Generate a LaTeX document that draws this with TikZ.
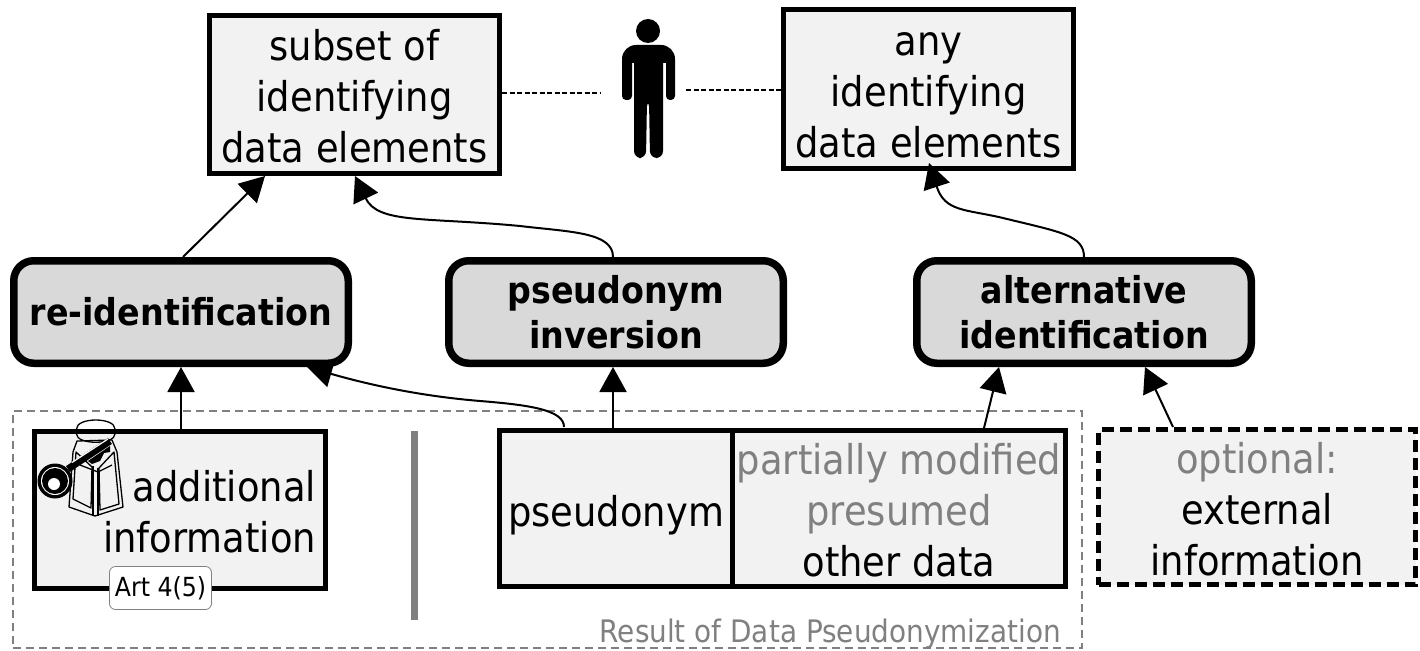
\documentclass[tikz,border=0pt]{standalone}
\usepackage{fontspec}
\setmainfont[FakeStretch=0.9]{DejaVu Sans}
\usetikzlibrary{arrows.meta}
\definecolor{boxfill}{HTML}{F2F2F2}
\definecolor{procfill}{HTML}{D9D9D9}
\definecolor{midgray}{HTML}{808080}
\newcommand{\topstrut}{\rule{0pt}{35pt}}
\newcommand{\boldstrut}{\rule{0pt}{28pt}}
\tikzset{
  x=1pt,y=-1pt,
  databox/.style={draw=black,line width=5pt,fill=boxfill,inner sep=0pt,align=center,font=\fontsize{41}{51}\selectfont},
  procbox/.style={draw=black,line width=7.5pt,fill=procfill,rounded corners=20pt,inner sep=0pt,align=center,font=\bfseries\fontsize{37}{45}\selectfont,minimum height=102.5pt,minimum width=334.5pt},
  conn/.style={draw=black,line width=2pt,-{Triangle[length=25pt,width=27pt]}},
  link/.style={draw=black,line width=1.7pt,dash pattern=on 5pt off 2.5pt},
  iconline/.style={draw=black,line width=1.3pt,line join=round},
}
\begin{document}
\begin{tikzpicture}
\useasboundingbox (0,0) rectangle (1420,650);
\fill[white] (0,0) rectangle (1420,650);
% outer frame
\node[draw=midgray,line width=1.5pt,dash pattern=on 8pt off 5pt,minimum width=1069pt,minimum height=237pt,inner sep=0pt] (frame) at (547.5,529.5) {};
\node[text=midgray,font=\fontsize{31}{36}\selectfont,anchor=base east,inner sep=0pt] (framelabel) at (1061,642) {Result of Data Pseudonymization};
% top boxes
\node[databox,minimum width=290pt,minimum height=158pt] (subset) at (354.5,94.5) {\topstrut subset of\\identifying\\data elements};
\node[databox,minimum width=290pt,minimum height=159pt] (any) at (928.5,89) {\topstrut any\\identifying\\data elements};
% process boxes
\node[procbox] (reid) at (181,312) {\boldstrut re-identification};
\node[procbox] (inv) at (616,312) {\boldstrut pseudonym\\inversion};
\node[procbox] (alt) at (1084,312) {\boldstrut alternative\\identification};
% lower boxes
\node[databox,minimum width=291pt,minimum height=157pt,text width=272pt,align=right] (add) at (180,510) {\rule{0pt}{35pt}additional\\information};
\node[databox,minimum width=233pt,minimum height=156pt] (pseud) at (616,508.5) {\raisebox{0pt}[35pt][0pt]{pseudonym}};
\node[databox,minimum width=333pt,minimum height=156pt] (other) at (899,508.5) {\topstrut\textcolor{midgray}{partially modified}\\\textcolor{midgray}{presumed}\\other data};
\node[databox,minimum width=317pt,minimum height=155pt,dash pattern=on 12pt off 6pt] (ext) at (1257,507) {\topstrut\textcolor{midgray}{optional:}\\external\\information};
\node[fill=midgray,minimum width=7pt,minimum height=189pt,inner sep=0pt] (bar) at (414.5,525.5) {};
\node[draw=midgray,line width=0.8pt,fill=white,rounded corners=6pt,minimum width=102pt,minimum height=43pt,inner sep=0pt,font=\fontsize{26.3}{30}\selectfont] (art) at (160.5,588) {Art 4(5)};
% lantern
\draw[iconline,fill=boxfill] (73,452) -- (77,441) -- (112,440) -- (117,452) -- (123,507) -- (95,516) -- (69,507) -- cycle;
\draw[iconline] (93,466) -- (93,516) (98,468) -- (98,516);
\draw[iconline] (76,452) -- (73,499) -- (91,508) -- (92,467) -- cycle;
\draw[iconline] (114,452) -- (119,504) -- (100,510) -- (99,468) -- cycle;
\draw[iconline] (80,465) -- (98,472) -- (112,465);
\draw[iconline] (76.5,429) .. controls (76.5,417) and (115,417) .. (115,429) -- (115,434) .. controls (115,445) and (76.5,445) .. (76.5,434) -- cycle;
% key
\fill[black] (55,481) circle (17.5);
\fill[white] (55,481) circle (14);
\fill[black] (55,481) circle (13);
\fill[white] (54,484) circle (6);
\draw[black,line width=7pt] (68,469) -- (110,441);
\draw[white,line width=1.2pt] (72,462.5) -- (108,439);
\fill[black] (88,461) -- (110,446) -- (110,452) -- (104,453) -- (100,461) -- (92,464) -- cycle;
% person
\fill[black] (648,31) circle (12);
\fill[black,rounded corners=14pt] (622,62) -- (622,45) -- (675,45) [rounded corners=0pt] -- (675,62) [rounded corners=4pt] -- (675,100) -- (666,100) [sharp corners] -- (666,63) -- (663,63) [rounded corners=7pt] -- (663,158) -- (650,158) -- (649,100) -- (647,100) -- (646,158) -- (634,158) [sharp corners] -- (634,63) -- (632,63) [rounded corners=4pt] -- (632,100) -- (622,100) -- cycle;
\coordinate (personl) at (600,93);
\coordinate (personr) at (686,90);
\draw[link] (subset.east |- personl) -- (personl);
\draw[link] (personr) -- (any.west |- personr);
% connectors
\coordinate (a1) at (183,257);
\coordinate (a1t) at (265,176);
\draw[conn] (a1) -- (a1t);
\coordinate (a2) at (613,257);
\coordinate (a2m) at (520,226);
\coordinate (a2t) at (355,176);
\draw[conn] (a2) .. controls (613,232) and (570,232) .. (a2m) .. controls (425,217) and (378,224) .. (a2t);
\coordinate (a3) at (1084,257);
\coordinate (a3m) at (1003,218);
\coordinate (a3t) at (929,163);
\draw[conn] (a3) .. controls (1084,235) and (1060,232) .. (a3m) .. controls (965,209) and (945,212) .. (a3t);
\coordinate (a0) at (181,431);
\coordinate (a0t) at (181,367);
\draw[conn] (a0) -- (a0t);
\coordinate (a4) at (564,427);
\coordinate (a4m) at (480,401);
\coordinate (a4t) at (307,367);
\draw[conn] (a4) .. controls (564,410) and (530,405) .. (a4m) .. controls (420,396) and (370,385) .. (a4t);
\coordinate (a5) at (613,429);
\coordinate (a5t) at (613,367);
\draw[conn] (a5) -- (a5t);
\coordinate (a6) at (984,428);
\coordinate (a6t) at (999,367);
\draw[conn] (a6) -- (a6t);
\coordinate (a7) at (1173,427);
\coordinate (a7t) at (1145,367);
\draw[conn] (a7) -- (a7t);
\end{tikzpicture}
\end{document}
